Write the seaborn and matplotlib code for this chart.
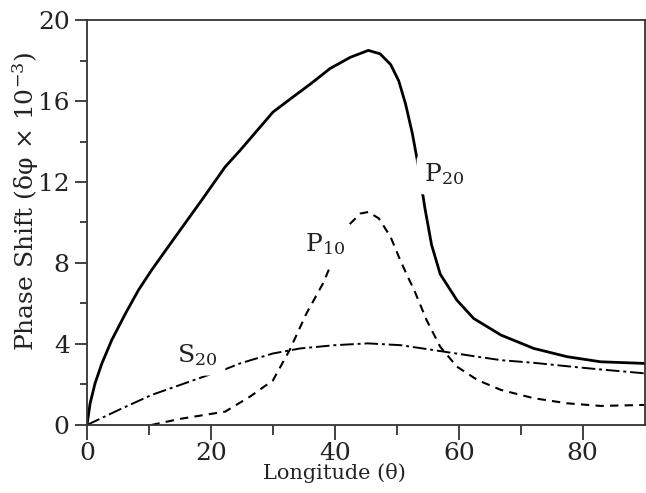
import pandas as pd
import matplotlib
matplotlib.use("Agg")
import matplotlib.pyplot as plt
import seaborn as sns

# P20 (solid)
p20_x = [0, 0.5, 1.3, 2.4, 4.0, 6.2, 8.3, 10.4, 13.1, 15.8, 18.5, 22.3, 24.7, 30, 32.8, 36.1,
         39.2, 42.5, 45.4, 47.3, 49.0, 50.3, 51.4, 52.5, 53.6, 54.5, 55.6, 57.0, 59.7, 62.4,
         66.8, 72.1, 77.5, 82.9, 90]
p20_y = [0, 1.07, 2.06, 3.04, 4.2, 5.5, 6.66, 7.64, 8.8, 9.95, 11.1, 12.75, 13.56, 15.45, 16.1,
         16.85, 17.6, 18.16, 18.5, 18.33, 17.8, 17.0, 15.86, 14.4, 12.57, 10.76, 8.9, 7.45, 6.16,
         5.26, 4.44, 3.78, 3.37, 3.12, 3.04]

# P10 (dashed)
p10_x = [10.4, 15, 22.3, 26.3, 30, 32.7, 35.4, 38.1, 40.8, 42.5, 44.1, 45.4, 47.1, 49.0, 50.6,
         51.9, 52.8, 54.8, 57.0, 59.7, 63.0, 66.8, 72.1, 77.5, 82.9, 90]
p10_y = [0, 0.3, 0.66, 1.4, 2.2, 3.7, 5.5, 7.0, 8.96, 9.95, 10.44, 10.52, 10.2, 9.28, 8.1,
         7.23, 6.66, 5.18, 3.86, 2.88, 2.22, 1.73, 1.32, 1.07, 0.94, 0.99]

# S20 (dash-dot)
s20_x = [0, 5.1, 10.4, 15.8, 19.6, 22.3, 24.7, 30, 34.4, 40, 45.3, 50.6, 55.9, 61.3, 66.8,
         72.1, 77.5, 82.9, 90]
s20_y = [0, 0.74, 1.48, 2.06, 2.47, 2.75, 3.04, 3.53, 3.78, 3.94, 4.03, 3.94, 3.7, 3.45, 3.2,
         3.07, 2.9, 2.74, 2.55]

x_ticks = [0, 20, 40, 60, 80]
y_ticks = [0, 4, 8, 12, 16, 20]

sns.set_style("ticks")
plt.rcParams['font.family'] = ['DejaVu Serif']
plt.rcParams['mathtext.default'] = 'regular'

fig = plt.figure(figsize=(6.46, 4.93), dpi=100)
ax = fig.add_axes([0.1347, 0.138, 0.998 - 0.1347, 0.9594 - 0.138])

sns.lineplot(x=p20_x, y=p20_y, ax=ax, color='black', linewidth=2.0, sort=False)
sns.lineplot(x=p10_x, y=p10_y, ax=ax, color='black', linewidth=1.5, sort=False,
             linestyle=(0, (4, 3)))
sns.lineplot(x=s20_x, y=s20_y, ax=ax, color='black', linewidth=1.4, sort=False,
             linestyle=(0, (7, 2, 1.5, 2)))

ax.set_xlim(0, 90)
ax.set_ylim(0, 20)
ax.set_xticks(x_ticks)
ax.set_yticks(y_ticks)
ax.set_xticks([10, 30, 50, 70], minor=True)
ax.set_yticks([2, 6, 10, 14, 18], minor=True)
ax.tick_params(axis='both', which='major', direction='out', length=9, width=1.3,
               labelsize=18, color='#333333', labelcolor='#222222')
ax.tick_params(axis='both', which='minor', direction='out', length=5, width=1.3,
               color='#333333')
ax.tick_params(axis='x', which='major', length=11, pad=1)
ax.tick_params(axis='x', which='minor', length=7)
for s in ax.spines.values():
    s.set_color('#333333')
    s.set_linewidth(1.3)

ax.set_xlabel('Longitude (θ)', fontsize=15, color='#222222')
ax.set_ylabel('Phase Shift (δφ × 10$^{-3}$)', fontsize=18, color='#222222')
ax.xaxis.set_label_coords(0.443, -0.093)
ax.yaxis.set_label_coords(-0.083, 0.553)

box = dict(boxstyle='round,pad=0.3', facecolor='white', edgecolor='none')
ax.text(54.4, 12.05, 'P$_{20}$', fontsize=18, color='#222222', bbox=box)
ax.text(35.2, 8.6, 'P$_{10}$', fontsize=18, color='#222222', bbox=box)
ax.text(14.6, 3.1, 'S$_{20}$', fontsize=18, color='#222222', bbox=box)

fig.savefig('out.png', dpi=100)
